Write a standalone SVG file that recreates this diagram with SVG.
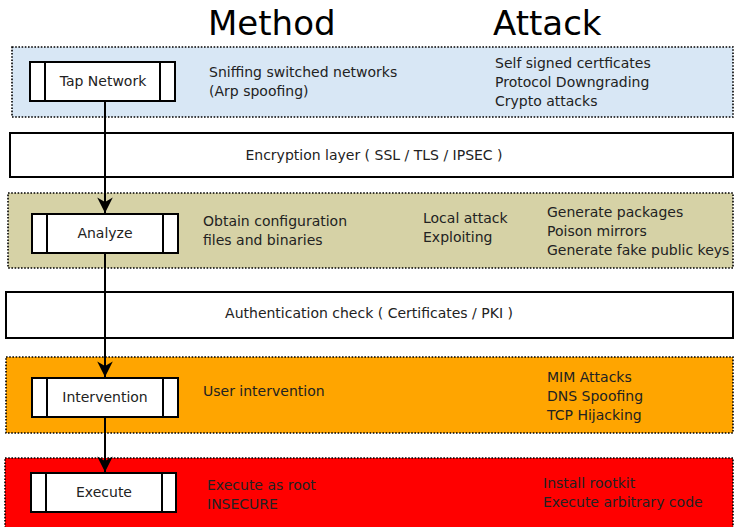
<svg xmlns="http://www.w3.org/2000/svg" width="735" height="527" viewBox="0 0 735 527">
<style>
text{font-family:"DejaVu Sans",sans-serif;font-size:14px;fill:#222}
.title{font-size:34px;fill:#000}
.band{stroke:#000;stroke-width:1.6;stroke-dasharray:1.6 1.6}
.layer{fill:#fff;stroke:#000;stroke-width:2}
.proc{fill:#fff;stroke:#000;stroke-width:2}
.c{text-anchor:middle}
.conn{stroke:#000;stroke-width:2;fill:none}
</style>
<defs>
<marker id="arr" markerUnits="userSpaceOnUse" markerWidth="20" markerHeight="20" refX="0" refY="0" viewBox="-16 -9 18 18" orient="auto">
<path d="M0,0 L-14,-7 L-10,0 L-14,7 Z" fill="#000"/>
</marker>
</defs>
<rect width="735" height="527" fill="#fff"/>
<text class="title" x="208" y="35">Method</text>
<text class="title" x="493" y="35">Attack</text>

<g id="band-tap">
<rect class="band" x="12" y="47" width="721" height="70" fill="#d8e7f5"/>
<text x="209" y="77">Sniffing switched networks</text>
<text x="209" y="96">(Arp spoofing)</text>
<text x="495" y="68">Self signed certficates</text>
<text x="495" y="87">Protocol Downgrading</text>
<text x="495" y="106">Crypto attacks</text>
</g>
<g id="tap-network">
<rect class="proc" x="30" y="62" width="145" height="39"/>
<line x1="45" y1="62" x2="45" y2="101" stroke="#000" stroke-width="2"/>
<line x1="160" y1="62" x2="160" y2="101" stroke="#000" stroke-width="2"/>
<text class="c" x="103" y="86">Tap Network</text>
</g>

<g id="encryption-layer">
<rect class="layer" x="10" y="133" width="723" height="44"/>
<text class="c" x="374" y="160">Encryption layer ( SSL / TLS / IPSEC )</text>
</g>

<g id="band-analyze">
<rect class="band" x="8" y="193" width="725" height="75" fill="#d6d2a6"/>
<text x="203" y="226">Obtain configuration</text>
<text x="203" y="245">files and binaries</text>
<text x="423" y="223">Local attack</text>
<text x="423" y="242">Exploiting</text>
<text x="547" y="217">Generate packages</text>
<text x="547" y="236">Poison mirrors</text>
<text x="547" y="255">Generate fake public keys</text>
</g>
<g id="analyze">
<rect class="proc" x="32" y="214" width="146" height="39"/>
<line x1="47" y1="214" x2="47" y2="253" stroke="#000" stroke-width="2"/>
<line x1="163" y1="214" x2="163" y2="253" stroke="#000" stroke-width="2"/>
<text class="c" x="105" y="238">Analyze</text>
</g>

<g id="authentication-check">
<rect class="layer" x="6" y="292" width="727" height="46"/>
<text class="c" x="369" y="318">Authentication check ( Certificates / PKI )</text>
</g>

<g id="band-intervention">
<rect class="band" x="6" y="357" width="727" height="76" fill="#ffa500"/>
<text x="203" y="396">User intervention</text>
<text x="547" y="382">MIM Attacks</text>
<text x="547" y="401">DNS Spoofing</text>
<text x="547" y="420">TCP Hijacking</text>
</g>
<g id="intervention">
<rect class="proc" x="32" y="378" width="146" height="39"/>
<line x1="47" y1="378" x2="47" y2="417" stroke="#000" stroke-width="2"/>
<line x1="163" y1="378" x2="163" y2="417" stroke="#000" stroke-width="2"/>
<text class="c" x="105" y="402">Intervention</text>
</g>

<g id="band-execute">
<rect class="band" x="5" y="458" width="728" height="75" fill="#ff0000"/>
<text x="207" y="490">Execute as root</text>
<text x="207" y="509">INSECURE</text>
<text x="543" y="488">Install rootkit</text>
<text x="543" y="507">Execute arbitrary code</text>
</g>
<g id="execute">
<rect class="proc" x="31" y="473" width="145" height="39"/>
<line x1="46" y1="473" x2="46" y2="512" stroke="#000" stroke-width="2"/>
<line x1="162" y1="473" x2="162" y2="512" stroke="#000" stroke-width="2"/>
<text class="c" x="104" y="497">Execute</text>
</g>

<g id="connectors">
<line class="conn" x1="105" y1="101" x2="105" y2="213" marker-end="url(#arr)"/>
<line class="conn" x1="105" y1="253" x2="105" y2="377" marker-end="url(#arr)"/>
<line class="conn" x1="105" y1="417" x2="105" y2="472" marker-end="url(#arr)"/>
</g>
</svg>
